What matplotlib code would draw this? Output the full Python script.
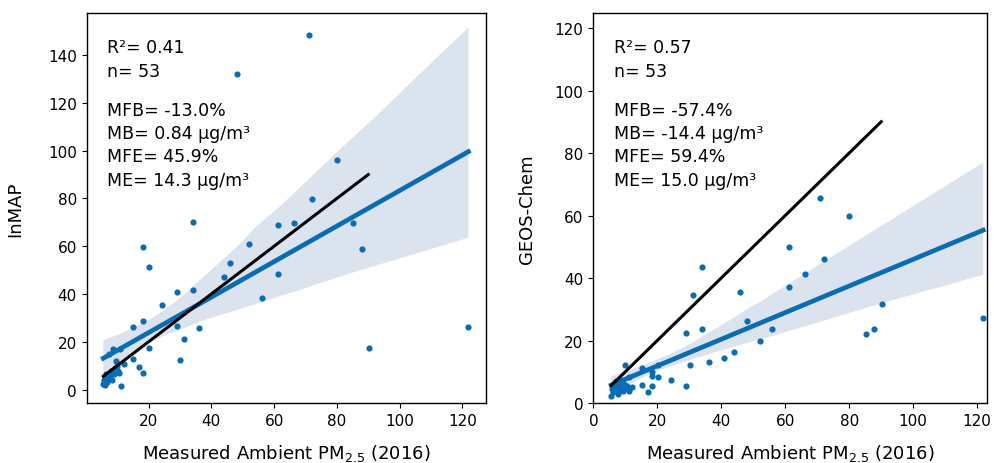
import matplotlib

matplotlib.use("Agg")

import matplotlib.pyplot as plt
import numpy as np
import seaborn as sns
from matplotlib.collections import PolyCollection

# measured PM2.5 at the 53 monitors (shared x for both panels)
measured = [
    71.0, 48.1, 80.0, 72.0, 34.1, 61.1, 66.2, 85.1, 18.2, 52.1, 87.9,
    20.1, 46.0, 44.1, 61.1, 29.0, 34.1, 24.2, 56.0, 18.2, 15.1, 29.0,
    36.1, 121.9, 31.2, 20.1, 90.1, 30.1, 15.1, 17.1, 18.2, 40.9,
    5.6, 5.7, 6.1, 6.3, 6.6, 6.9, 7.1, 7.4, 7.8, 8.0, 8.3, 8.7, 9.0,
    9.2, 9.6, 10.0, 10.3, 10.6, 11.0, 11.2, 12.1,
]
inmap = [
    148.4, 132.2, 96.2, 79.8, 70.0, 68.9, 69.7, 69.7, 59.6, 60.8, 58.7,
    51.5, 52.9, 47.1, 48.4, 40.9, 41.8, 35.6, 38.2, 28.7, 26.4, 26.8,
    25.9, 26.1, 21.1, 17.4, 17.4, 12.4, 13.0, 9.5, 7.1, 40.5,
    2.4, 4.0, 2.0, 4.5, 6.5, 3.0, 5.0, 14.9, 5.9, 8.0, 4.0, 17.0, 6.6,
    9.0, 12.0, 10.0, 8.0, 7.0, 16.8, 1.7, 10.9,
]
geos_chem = [
    65.5, 26.3, 59.9, 46.2, 43.5, 50.0, 41.2, 22.1, 10.0, 19.7, 23.6,
    8.4, 35.6, 16.2, 37.1, 22.5, 23.6, 7.4, 23.6, 8.6, 11.2, 5.3,
    13.1, 27.1, 34.6, 12.3, 31.8, 12.1, 5.9, 3.4, 5.3, 14.4,
    2.3, 4.5, 6.0, 3.5, 5.5, 4.0, 7.0, 5.0, 3.0, 6.5, 4.2, 7.5, 5.2,
    3.8, 6.0, 12.3, 4.8, 5.6, 8.3, 3.9, 5.0,
]

inmap_stats = ["R\u00b2= 0.41", "n= 53", "MFB= -13.0%", "MB= 0.84 \u00b5g/m\u00b3",
               "MFE= 45.9%", "ME= 14.3 \u00b5g/m\u00b3"]
geos_stats = ["R\u00b2= 0.57", "n= 53", "MFB= -57.4%", "MB= -14.4 \u00b5g/m\u00b3",
              "MFE= 59.4%", "ME= 15.0 \u00b5g/m\u00b3"]

ONE_TO_ONE_MAX = 90
POINT_COLOR = "#0a6db3"
BAND_COLOR = "#dbe3ef"
STAT_ROWS = [0.899, 0.838, 0.738, 0.680, 0.620, 0.560]


def draw_panel(ax, x, y, ylabel, stats, label_x):
    x = np.asarray(x)
    y = np.asarray(y)
    sns.regplot(
        x=x, y=y, ax=ax, color=POINT_COLOR, seed=3,
        scatter_kws={"s": 20, "linewidths": 0, "alpha": 1, "zorder": 2},
        line_kws={"lw": 3.4, "zorder": 3},
    )
    # light, opaque CI band kept under the points
    for coll in ax.collections:
        if isinstance(coll, PolyCollection):
            coll.set_facecolor(BAND_COLOR)
            coll.set_alpha(1)
            coll.set_zorder(1)
    ax.plot([x.min(), ONE_TO_ONE_MAX], [x.min(), ONE_TO_ONE_MAX], color="black", lw=2.2, zorder=4)

    for text, ypos in zip(stats, STAT_ROWS):
        ax.text(0.052, ypos, text, transform=ax.transAxes, fontsize=12.5, va="baseline")

    ax.set_ylabel(ylabel, fontsize=13)
    ax.set_xlabel("Measured Ambient PM$_{2.5}$ (2016)", fontsize=13)
    ax.yaxis.set_label_coords(label_x, 0.5)
    ax.xaxis.set_label_coords(0.5, -0.1)
    ax.tick_params(labelsize=11)
    for spine in ax.spines.values():
        spine.set_linewidth(1.0)


fig = plt.figure(figsize=(9.94, 4.64), dpi=100)
ax_left = fig.add_axes([0.0872, 0.1293, 0.4017, 0.8405])
ax_right = fig.add_axes([0.5969, 0.1293, 0.3958, 0.8405])

draw_panel(ax_left, measured, inmap, "InMAP", inmap_stats, -0.1575)
ax_left.set_xlim(0.3, 127.5)
ax_left.set_ylim(-5.6, 157.6)
ax_left.set_yticks(range(0, 141, 20))

draw_panel(ax_right, measured, geos_chem, "GEOS-Chem", geos_stats, -0.146)
ax_right.set_xlim(0, 123)
ax_right.set_ylim(0, 124.8)

fig.savefig("out.png", dpi=100, facecolor="white")
